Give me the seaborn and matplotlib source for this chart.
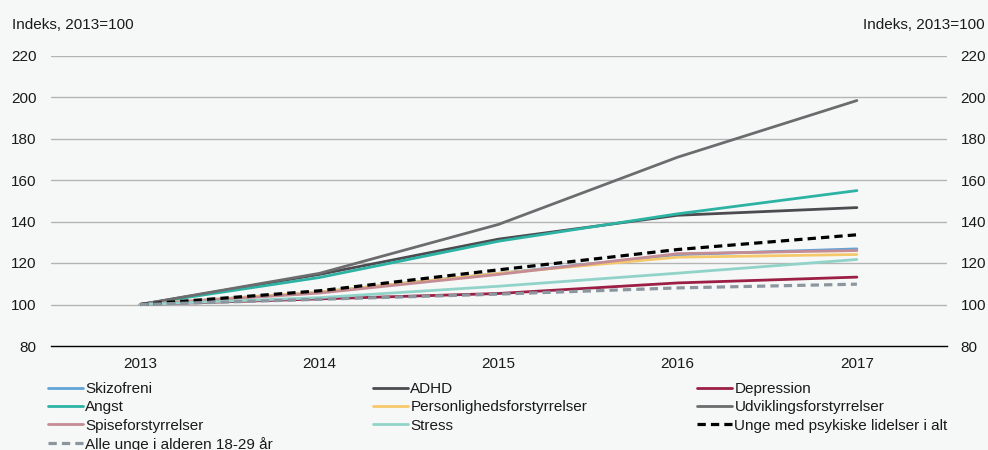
import matplotlib
matplotlib.use("Agg")
import matplotlib.pyplot as plt
import seaborn as sns
import pandas as pd

# ---- data ----
years = ["2013", "2014", "2015", "2016", "2017"]
skizofreni = [100, 106.0, 115.0, 124.0, 126.8]
adhd = [100, 114.5, 131.5, 143.0, 146.7]
depression = [100, 102.7, 105.3, 110.4, 113.2]
angst = [100, 113.0, 130.5, 143.7, 154.9]
personlighed = [100, 106.0, 115.0, 122.8, 124.1]
udvikling = [100, 115.0, 138.6, 171.0, 198.3]
spise = [100, 105.5, 114.5, 124.5, 126.0]
stress = [100, 103.3, 108.8, 115.1, 121.7]
unge_psyk = [100, 106.6, 116.7, 126.5, 133.6]
alle_unge = [100, 102.5, 105.0, 108.0, 109.8]

labels = ["Skizofreni", "ADHD", "Depression", "Angst", "Personlighedsforstyrrelser",
          "Udviklingsforstyrrelser", "Spiseforstyrrelser", "Stress",
          "Unge med psykiske lidelser i alt", "Alle unge i alderen 18-29 år"]
series = [skizofreni, adhd, depression, angst, personlighed, udvikling, spise,
          stress, unge_psyk, alle_unge]
colors = ["#62a3d8", "#4b4b50", "#9c1f45", "#2cb3a3", "#f6c86c", "#6c6c6e",
          "#c58c94", "#92d3c9", "#000000", "#8c969e"]
dashed = [False] * 8 + [True, True]

yticks = [80, 100, 120, 140, 160, 180, 200, 220]
ylabel = "Indeks, 2013=100"

# ---- style ----
bg = "#f6f8f8"
sns.set_theme(style="white")
plt.rcParams["font.family"] = ["Liberation Sans", "DejaVu Sans"]

fig = plt.figure(figsize=(9.88, 4.5), dpi=100, facecolor=bg)
ax = fig.add_axes([50.5 / 988, 1 - 346 / 450, (946.5 - 50.5) / 988, (346 - 55.5) / 450])
ax.set_facecolor(bg)

for lab, vals, col, dsh in zip(labels, series, colors, dashed):
    df = pd.DataFrame({"year": years, "value": vals})
    lw = 2.3 if dsh else 2.0
    sns.lineplot(data=df, x="year", y="value", ax=ax, color=col, linewidth=lw,
                 label=lab, legend=False, sort=False)
    if dsh:
        ax.lines[-1].set_dashes((2.6, 1.6))

ax.set_xlim(-0.5, 4.5)
ax.set_ylim(80, 220)
ax.set_yticks(yticks)
ax.set_xlabel("")
ax.set_ylabel("")

for y in yticks[1:]:
    ax.axhline(y, color="#b4b4b4", linewidth=1.0, zorder=0)

for s in ["top", "left", "right"]:
    ax.spines[s].set_visible(False)
ax.spines["bottom"].set_color("#000000")
ax.spines["bottom"].set_linewidth(1.0)

ax.set_xticks(range(len(years)))
ax.set_xticklabels(years)
ax.set_xticks([0.5, 1.5, 2.5, 3.5, 4.5], minor=True)
ax.tick_params(axis="x", which="major", length=0, pad=8, labelsize=11, colors="#1a1a1a")
ax.tick_params(axis="x", which="minor", length=4, width=1, direction="out", color="#000000")
ax.tick_params(axis="y", which="major", length=0, pad=10, labelsize=11,
               labelleft=True, labelright=True, colors="#1a1a1a")

fig.text(12 / 988, 1 - 25 / 450, ylabel, fontsize=11, va="center", ha="left", color="#1a1a1a")
fig.text(985 / 988, 1 - 25 / 450, ylabel, fontsize=11, va="center", ha="right", color="#1a1a1a")

# ---- legend: three columns ----
handles = ax.get_lines()[:len(labels)]
hmap = dict(zip(labels, handles))
cols = [
    (["Skizofreni", "Angst", "Spiseforstyrrelser", "Alle unge i alderen 18-29 år"], 48),
    (["ADHD", "Personlighedsforstyrrelser", "Stress"], 373),
    (["Depression", "Udviklingsforstyrrelser", "Unge med psykiske lidelser i alt"], 697),
]
for labs, x0 in cols:
    leg = fig.legend([hmap[l] for l in labs], labs, loc="upper left",
                     bbox_to_anchor=(x0 / 988, 1 - 382 / 450), frameon=False,
                     borderpad=0, borderaxespad=0, handlelength=2.3,
                     handletextpad=0.15, labelspacing=0.28, fontsize=11)
    for t in leg.get_texts():
        t.set_color("#1a1a1a")

fig.savefig("out.png", dpi=100, facecolor=bg)
